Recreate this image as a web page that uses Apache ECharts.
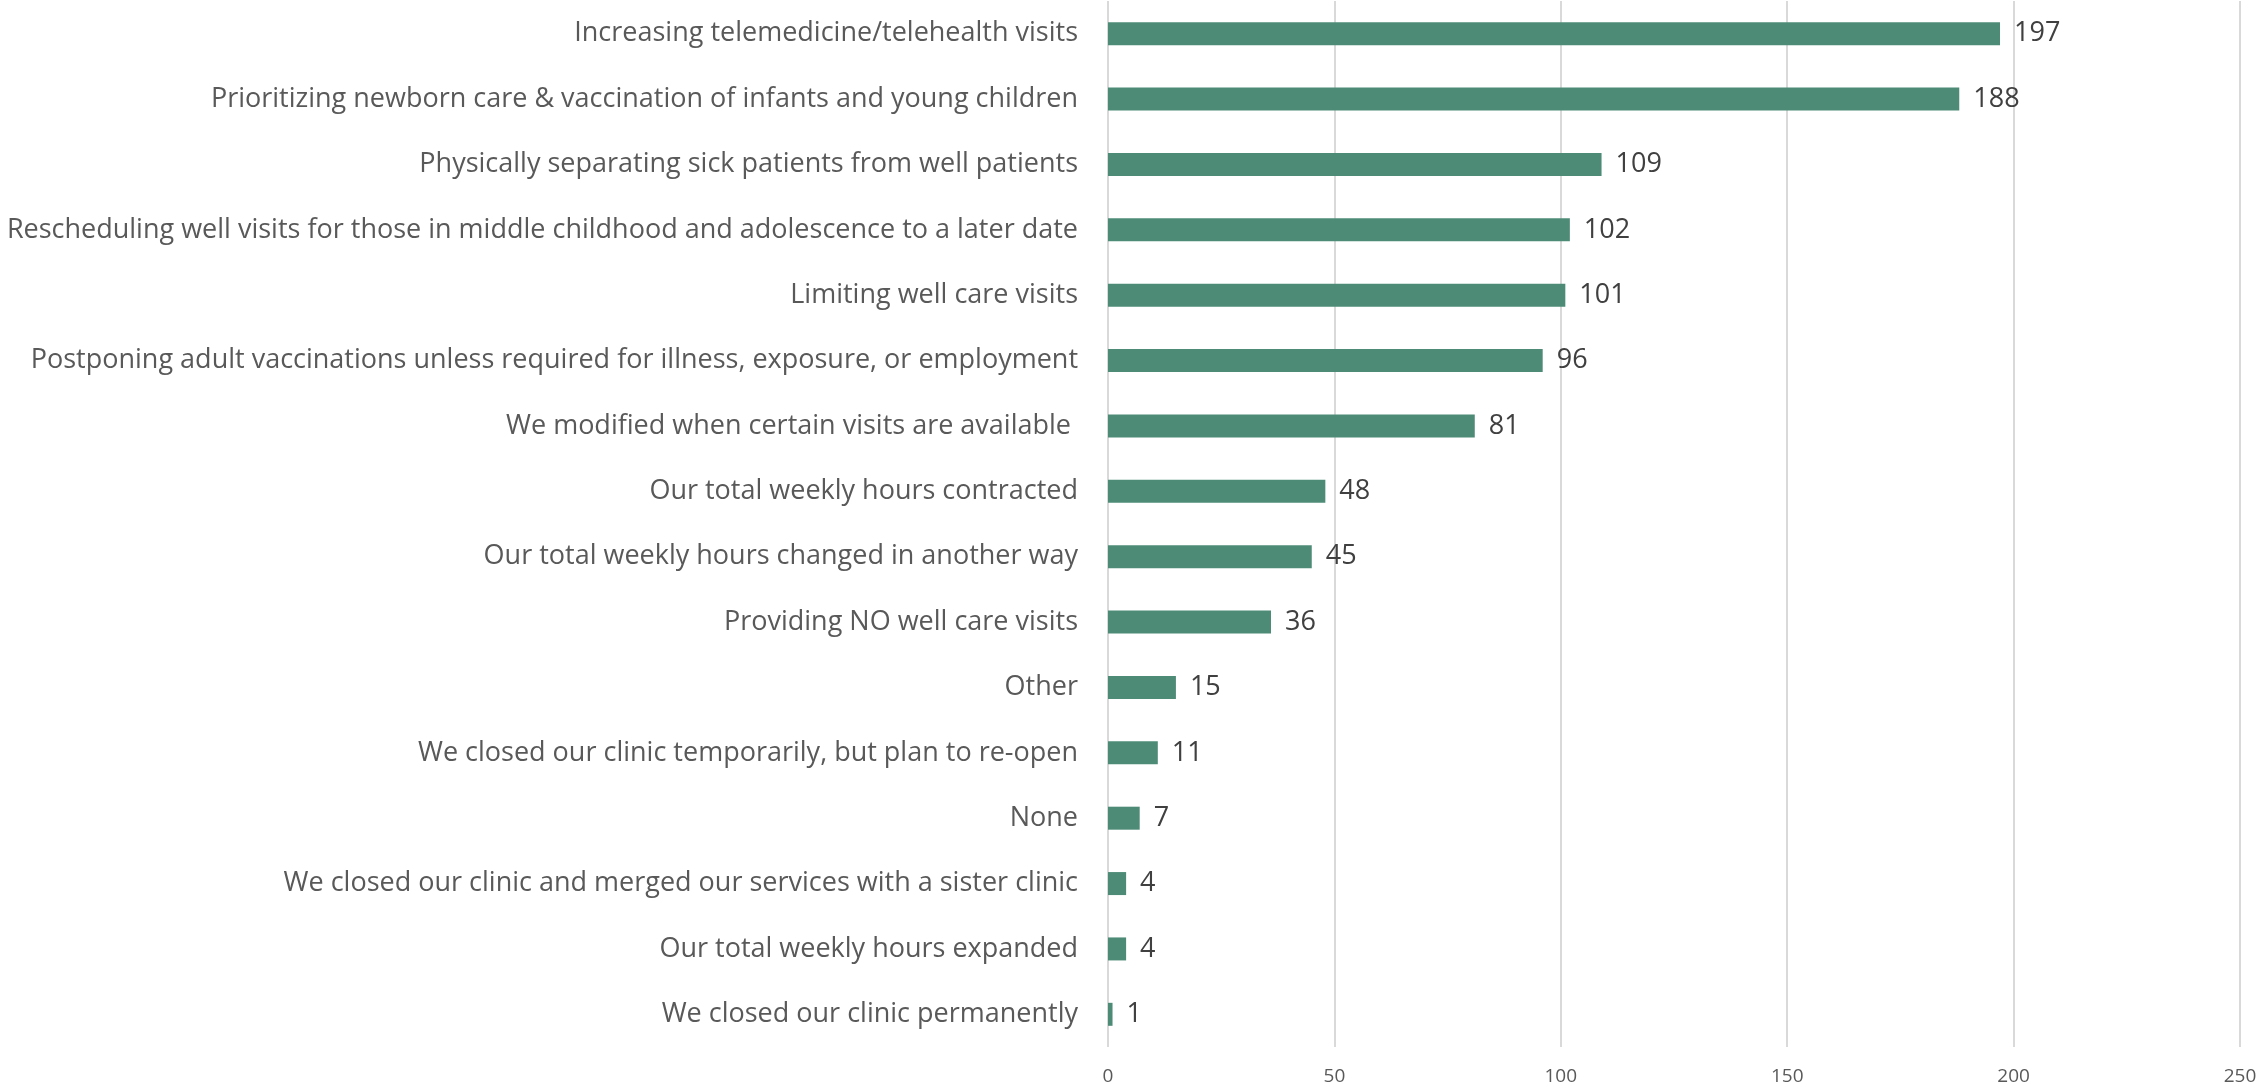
<!DOCTYPE html>
<html>
<head>
<meta charset="utf-8">
<script src="https://cdn.jsdelivr.net/npm/echarts@6/dist/echarts.min.js"></script>
<style>
html, body { margin: 0; padding: 0; background: #fff; }
#chart { width: 2260px; height: 1091px; }
</style>
</head>
<body>
<div id="chart"></div>
<script>
// 类别（从上到下）
const categories = [
    "Increasing telemedicine/telehealth visits",
    "Prioritizing newborn care & vaccination of infants and young children",
    "Physically separating sick patients from well patients",
    "Rescheduling well visits for those in middle childhood and adolescence to a later date",
    "Limiting well care visits",
    "Postponing adult vaccinations unless required for illness, exposure, or employment",
    "We modified when certain visits are available ",
    "Our total weekly hours contracted",
    "Our total weekly hours changed in another way",
    "Providing NO well care visits",
    "Other",
    "We closed our clinic temporarily, but plan to re-open",
    "None",
    "We closed our clinic and merged our services with a sister clinic",
    "Our total weekly hours expanded",
    "We closed our clinic permanently"
];
const counts = [197, 188, 109, 102, 101, 96, 81, 48, 45, 36, 15, 11, 7, 4, 4, 1];
const xTicks = [0, 50, 100, 150, 200, 250];

const barColor = "#4e8b77";
const fontFamily = "'Open Sans', 'Noto Sans', sans-serif";

const myChart = echarts.init(document.getElementById("chart"));
const option = {
    animation: false,
    grid: {
        left: 1108,
        right: 20,
        top: 1,
        bottom: 44,
        containLabel: false
    },
    xAxis: {
        type: "value",
        min: xTicks[0],
        max: xTicks[xTicks.length - 1],
        interval: 50,
        axisLine: { show: false },
        axisTick: { show: false },
        axisLabel: {
            color: "#595959",
            fontSize: 19,
            fontFamily: fontFamily,
            margin: 20
        },
        splitLine: {
            show: true,
            lineStyle: { color: "#d9d9d9", width: 2 }
        }
    },
    yAxis: {
        type: "category",
        inverse: true,
        data: categories,
        axisLine: { show: false },
        axisTick: { show: false },
        axisLabel: {
            color: "#595959",
            fontSize: 27,
            fontFamily: fontFamily,
            margin: 30,
            padding: [4, 0, 0, 0]
        }
    },
    series: [
        {
            type: "bar",
            data: counts,
            barWidth: 23,
            itemStyle: { color: barColor },
            label: {
                show: true,
                position: "right",
                distance: 14,
                color: "#404040",
                fontSize: 27,
                fontFamily: fontFamily,
                padding: [4, 0, 0, 0]
            }
        }
    ]
};
myChart.setOption(option);
</script>
</body>
</html>
